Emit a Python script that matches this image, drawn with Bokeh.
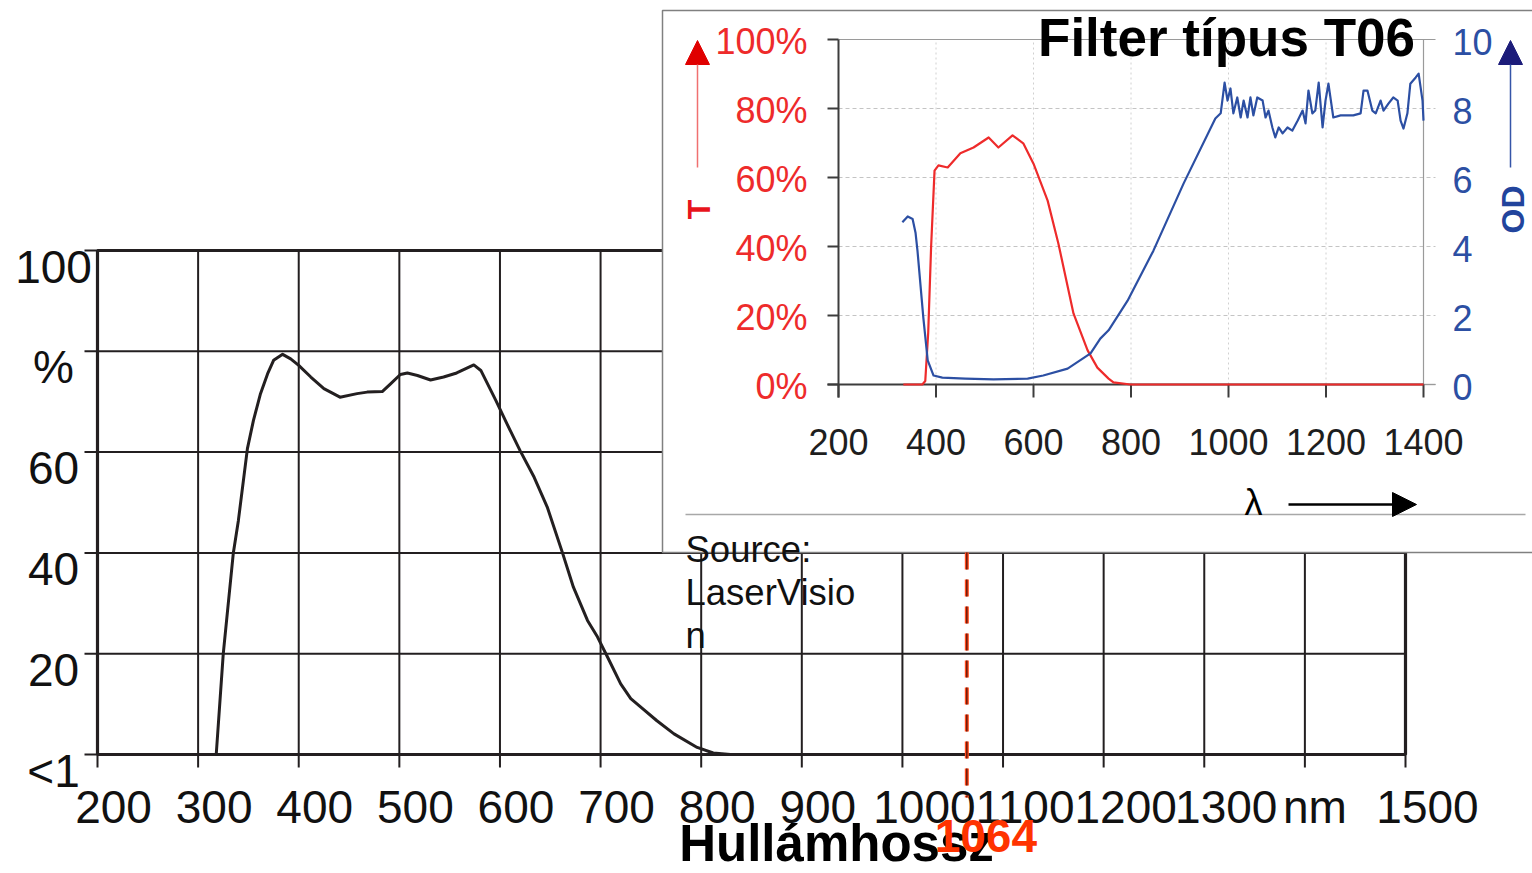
import math
from bokeh.plotting import figure
from bokeh.models import Range1d, Arrow, NormalHead
from bokeh.core.properties import value
from bokeh.embed import file_html
from bokeh.resources import INLINE

# ---------------- data ----------------
main_x_ticks = [200, 300, 400, 500, 600, 700, 800, 900, 1000, 1100, 1200, 1300, 1400, 1500]
main_x_labels = ["200", "300", "400", "500", "600", "700", "800", "900", "1000",
                 "1100", "1200", "1300", "nm", "1500"]
main_y_ticks = [0, 20, 40, 60, 80, 100]
main_y_labels = ["<1", "20", "40", "60", "%", "100"]
x_title = "Hullámhossz"
laser_nm = 1064
laser_label = "1064"
source_lines = ["Source:", "LaserVisio", "n"]

main_nm = [200, 318, 325, 335, 340, 349, 355, 362, 369, 375, 384, 392, 400, 412, 425, 441,
           458, 468, 483, 491, 501, 508, 518, 531, 544, 557, 574, 581, 596, 607, 620, 634,
           647, 662, 673, 687, 697, 707, 720, 730, 740, 756, 773, 796, 812, 829, 1100]
main_T = [0, 0, 20, 40, 46.4, 60.7, 66.3, 71.6, 75.5, 78.2, 79.4, 78.5, 77.2, 74.9, 72.6,
          70.9, 71.6, 71.9, 72.0, 73.5, 75.4, 75.7, 75.2, 74.3, 74.9, 75.7, 77.3, 76.2, 70.2,
          65.6, 60.3, 55.0, 49.1, 40.1, 33.2, 26.6, 23.3, 19.3, 14.0, 11.1, 9.4, 6.7, 4.1,
          1.4, 0.3, 0, 0]

inset_title = "Filter típus T06"
inset_x_ticks = [200, 400, 600, 800, 1000, 1200, 1400]
inset_x_labels = ["200", "400", "600", "800", "1000", "1200", "1400"]
inset_T_ticks = [0, 20, 40, 60, 80, 100]
inset_T_labels = ["0%", "20%", "40%", "60%", "80%", "100%"]
inset_OD_ticks = [0, 2, 4, 6, 8, 10]
inset_OD_labels = ["0", "2", "4", "6", "8", "10"]
t_axis_name = "T"
od_axis_name = "OD"
lambda_name = "λ"

red_nm = [333, 372, 378, 384, 390, 397, 405, 424, 450, 477, 508, 528, 557, 579, 600, 629,
          651, 682, 711, 731, 754, 764, 799, 1400]
red_T = [0, 0, 1, 15, 40, 62, 63.5, 62.9, 67, 68.7, 71.6, 68.7, 72.2, 69.9, 64, 53.3,
         40.9, 20.6, 9.9, 4.9, 1.7, 0.6, 0, 0]

blue_nm = [331, 342, 352, 358, 362, 374, 383, 395, 413, 460, 518, 588, 620, 670, 717, 737, 754,
           793, 846, 908, 973, 984, 992, 998, 1004, 1010, 1018, 1025, 1031, 1039, 1045, 1051,
           1059, 1070, 1076, 1082, 1090, 1096, 1103, 1111, 1121, 1131, 1142, 1152, 1158, 1164,
           1172, 1178, 1185, 1193, 1199, 1205, 1215, 1230, 1256, 1271, 1277, 1285, 1295, 1302,
           1312, 1318, 1328, 1338, 1347, 1353, 1359, 1367, 1373, 1384, 1390, 1398, 1400]
blue_OD = [4.7, 4.87, 4.8, 4.4, 3.88, 1.94, 0.70, 0.26, 0.2, 0.17, 0.15, 0.17, 0.26, 0.46, 0.9,
           1.33, 1.57, 2.43, 3.88, 5.83, 7.71, 7.86, 8.75, 8.23, 8.58, 7.86, 8.32, 7.74, 8.23,
           7.74, 8.32, 7.8, 8.32, 8.23, 7.74, 7.94, 7.45, 7.16, 7.45, 7.28, 7.45, 7.36, 7.65,
           7.94, 7.57, 8.52, 7.86, 7.94, 8.75, 7.45, 8.23, 8.72, 7.74, 7.8, 7.8, 7.86, 8.52,
           8.52, 7.94, 7.86, 8.23, 7.94, 8.14, 8.32, 8.23, 7.65, 7.42, 7.86, 8.72, 8.9, 9.01,
           8.23, 7.65]

# ---------------- layout (page pixels) ----------------
W, H = 1532, 873
OFF = 0
MX0, MX1 = 97, 1405      # main x: first / last tick
MY0, MY1 = 754, 250      # main y: 0 / 100
IX0, IX1 = 838, 1423     # inset x: 200 / 1400
IY0, IY1 = 384, 39       # inset y: 0% / 100%

mxmin, mxmax = min(main_x_ticks), max(main_x_ticks)
mymin, mymax = min(main_y_ticks), max(main_y_ticks)
ixmin, ixmax = min(inset_x_ticks), max(inset_x_ticks)
iymin, iymax = min(inset_T_ticks), max(inset_T_ticks)
od_scale = max(inset_OD_ticks) / iymax

msx = (MX1 - MX0) / (mxmax - mxmin)
msy = (MY0 - MY1) / (mymax - mymin)
isx = (IX1 - IX0) / (ixmax - ixmin)
isy = (IY0 - IY1) / (iymax - iymin)

def mx(px): return mxmin + (px - MX0) / msx
def my(py): return mymin + (MY0 - py) / msy
def ix(px): return ixmin + (px - IX0) / isx
def iy(py): return iymin + (IY0 - py) / isy

FONT = value("Liberation Sans")
INK = "#231f20"
MID = "middle"

p = figure(width=W, height=H, x_range=Range1d(mx(OFF), mx(OFF + W)),
           y_range=Range1d(my(OFF + H), my(OFF)), min_border=0,
           toolbar_location=None, output_backend="svg",
           x_axis_location=None, y_axis_location=None,
           outline_line_color=None, background_fill_color="white",
           border_fill_color="white")
p.grid.grid_line_color = None
p.extra_x_ranges = {"ix": Range1d(ix(OFF), ix(OFF + W))}
p.extra_y_ranges = {"iT": Range1d(iy(OFF + H), iy(OFF)),
                    "iOD": Range1d(iy(OFF + H) * od_scale, iy(OFF) * od_scale)}

# ---------------- main chart ----------------
TICK = 13
nx, ny = len(main_x_ticks), len(main_y_ticks)
p.segment(x0=main_x_ticks, y0=[my(MY0 + TICK)] * nx, x1=main_x_ticks, y1=[mymax] * nx,
          line_color=INK, line_width=2)
p.segment(x0=[mx(MX0 - TICK)] * ny, y0=main_y_ticks, x1=[mxmax] * ny, y1=main_y_ticks,
          line_color=INK, line_width=2)
p.quad(left=[mxmin], right=[mxmax], bottom=[mymin], top=[mymax], fill_color=None,
       line_color=INK, line_width=3.2)
p.line(main_nm, main_T, line_color=INK, line_width=3, line_join="round")

p.text(x=[mxmin] * ny, y=main_y_ticks, text=main_y_labels, text_font=FONT,
       text_font_size="46px", text_color="#111111", text_align="center",
       text_baseline=MID, x_offset=-44, y_offset=16)
p.text(x=main_x_ticks, y=[mymin] * nx, text=main_x_labels, text_font=FONT,
       text_font_size="46px", text_color="#111111", text_align="center",
       text_baseline=MID, x_offset=[6 * len(s) - 2 for s in main_x_labels],
       y_offset=52)

# ---------------- inset ----------------
R = dict(x_range_name="ix", y_range_name="iT")
p.quad(left=[ix(662)], right=[ix(1560)], bottom=[iy(552)], top=[iy(10)],
       fill_color="white", line_color="#808080", line_width=1.5, **R)
p.segment(x0=[ix(685)], y0=[iy(514)], x1=[ix(1525)], y1=[iy(514)],
          line_color="#a8a8a8", line_width=1.5, **R)

hx = inset_T_ticks[1:-1]
p.segment(x0=[ixmin] * len(hx), y0=hx, x1=[ix(IX1 + 12)] * len(hx), y1=hx,
          line_color="#c4c4c4", line_width=1, line_dash="4 3", **R)
vx = inset_x_ticks[1:-1]
p.segment(x0=vx, y0=[iymin] * len(vx), x1=vx, y1=[iymax] * len(vx),
          line_color="#d0d0d0", line_width=1, line_dash="2 3", **R)
p.segment(x0=[ixmin, ixmax], y0=[iymax, iymin], x1=[ix(IX1 + 12), ixmax], y1=[iymax, iymax],
          line_color="#9a9a9a", line_width=1.2, **R)
p.segment(x0=[ixmax] * 2, y0=[iymin, iymin], x1=[ix(IX1 + 12)] * 2, y1=[iymin, iymin],
          line_color="#9a9a9a", line_width=1.2, **R)
# axes (dark)
nT = len(inset_T_ticks)
p.segment(x0=[ix(IX0 - 11)] * nT, y0=inset_T_ticks, x1=[ixmin] * nT, y1=inset_T_ticks,
          line_color="#3c3c3c", line_width=2, **R)
nI = len(inset_x_ticks)
p.segment(x0=inset_x_ticks, y0=[iy(IY0 + 13)] * nI, x1=inset_x_ticks, y1=[iymin] * nI,
          line_color="#3c3c3c", line_width=2, **R)
p.segment(x0=[ixmin, ix(IX0 - 11)], y0=[iy(IY0 + 13), iymin], x1=[ixmin, ixmax],
          y1=[iymax, iymin], line_color="#3c3c3c", line_width=2, **R)

p.line(red_nm, red_T, line_color="#ee2b2b", line_width=2.2, line_join="round", **R)
p.line(blue_nm, blue_OD, line_color="#2c4fa3", line_width=2.2, line_join="round",
       x_range_name="ix", y_range_name="iOD")

IFONT = "36px"
p.text(x=[ixmin] * nT, y=inset_T_ticks, text=inset_T_labels, text_font=FONT,
       text_font_size=IFONT, text_color="#ee2b2b", text_align="right",
       text_baseline=MID, x_offset=-31, y_offset=2, **R)
p.text(x=[ixmax] * len(inset_OD_ticks), y=inset_OD_ticks, text=inset_OD_labels,
       text_font=FONT, text_font_size=IFONT, text_color="#2c4fa3", text_align="left",
       text_baseline=MID, x_offset=29, y_offset=2,
       x_range_name="ix", y_range_name="iOD")
p.text(x=inset_x_ticks, y=[iymin] * nI, text=inset_x_labels, text_font=FONT,
       text_font_size=IFONT, text_color="#1e1e1e", text_align="center",
       text_baseline=MID, y_offset=57, **R)

p.text(x=[ix(1226)], y=[iy(37)], text=[inset_title], text_font=FONT,
       text_font_size="53px", text_font_style="bold", text_color="black",
       text_align="center", text_baseline=MID, **R)
p.text(x=[ix(698)], y=[iy(209)], text=[t_axis_name], text_font=FONT,
       text_font_size="32px", text_font_style="bold", text_color="#e8141c",
       text_align="center", text_baseline=MID, angle=math.pi / 2, **R)
p.text(x=[ix(1512)], y=[iy(209)], text=[od_axis_name], text_font=FONT,
       text_font_size="32px", text_font_style="bold", text_color="#22449c",
       text_align="center", text_baseline=MID, angle=math.pi / 2, **R)
p.text(x=[ix(1253)], y=[iy(502)], text=[lambda_name], text_font=FONT,
       text_font_size="36px", text_color="black", text_align="center",
       text_baseline=MID, **R)

p.add_layout(Arrow(x_start=ix(697), y_start=iy(167), x_end=ix(697), y_end=iy(40),
                   line_color="#f07070", line_width=1.5,
                   end=NormalHead(size=24, fill_color="#e00000", line_color="#e00000"), **R))
p.add_layout(Arrow(x_start=ix(1510), y_start=iy(167), x_end=ix(1510), y_end=iy(40),
                   line_color="#3555a8", line_width=1.5,
                   end=NormalHead(size=24, fill_color="#1c1c7a", line_color="#1c1c7a"), **R))
p.add_layout(Arrow(x_start=ix(1288), y_start=iy(504), x_end=ix(1416), y_end=iy(504),
                   line_color="black", line_width=2.5,
                   end=NormalHead(size=24, fill_color="black", line_color="black"), **R))

# ---------------- main annotations over the inset ----------------
p.line([laser_nm, laser_nm], [my(552), my(797)], line_color="#ff4a1c", line_width=4,
       line_dash="17 10")
p.line([laser_nm, laser_nm], [my(552), my(797)], line_color="#6a1a0c", line_width=1.5,
       line_dash="17 10")
p.text(x=[mx(685)] * 3, y=[my(549), my(592), my(635)], text=source_lines, text_font=FONT,
       text_font_size="36.5px", text_color="#111111", text_align="left",
       text_baseline=MID)
p.text(x=[mx(836)], y=[my(843)], text=[x_title], text_font=FONT, text_font_size="51px",
       text_font_style="bold", text_color="black", text_align="center",
       text_baseline=MID)
p.text(x=[laser_nm], y=[mymin], text=[laser_label], text_font=FONT, text_font_size="46px",
       text_font_style="bold", text_color="#ff3300", text_align="center",
       text_baseline=MID, x_offset=19, y_offset=81)

open("out.html", "w").write(file_html(p, INLINE))
